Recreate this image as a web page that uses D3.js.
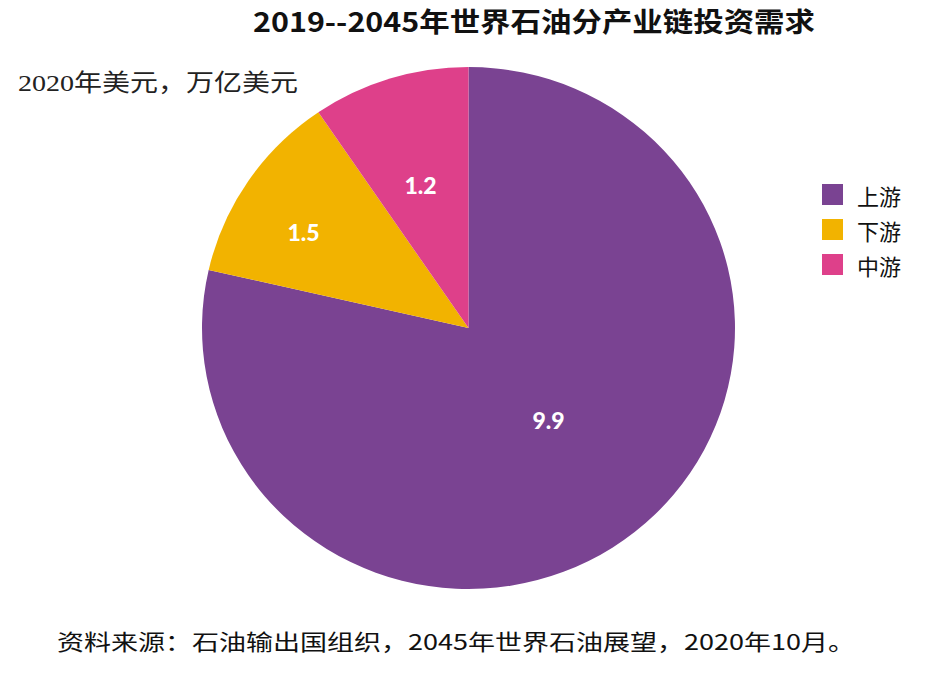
<!DOCTYPE html>
<html><head><meta charset="utf-8">
<script src="https://cdn.jsdelivr.net/npm/d3@7/dist/d3.min.js"></script>
<style>body{margin:0;background:#fff}svg{display:block}</style>
</head><body>
<svg id="c" width="946" height="674"></svg>
<script>
const categories = ["上游", "下游", "中游"];
const values = [9.9, 1.5, 1.2];
const labels = ["9.9", "1.5", "1.2"];
const colors = ["#7a4392", "#f2b300", "#de408a"];
const title = "2019--2045年世界石油分产业链投资需求";
const unit = "2020年美元，万亿美元";
const source = "资料来源：石油输出国组织，2045年世界石油展望，2020年10月。";

const svg = d3.select("#c");
const cx = 468.5, cy = 328, rx = 266.5, ry = 261;

const pie = d3.pie().sort(null).value(d => d)(values);
const arc = d3.arc().innerRadius(0).outerRadius(ry);

const g = svg.append("g").attr("transform", `translate(${cx},${cy})`);
g.append("g").attr("transform", `scale(${rx/ry},1)`)
  .selectAll("path").data(pie).join("path")
  .attr("d", arc).attr("fill", (d,i) => colors[i]);

const labelPos = [[80, 92], [-165, -96], [-48, -143]];
g.selectAll("text.v").data(pie).join("text")
  .attr("class","v")
  .attr("x", (d,i) => labelPos[i][0]).attr("y", (d,i) => labelPos[i][1])
  .attr("text-anchor","middle").attr("dominant-baseline","central")
  .attr("fill","#fff").attr("font-family","Lato, 'Open Sans', sans-serif")
  .attr("font-weight","900").attr("font-size", 23)
  .text((d,i) => labels[i]);

svg.append("text").attr("x", 534).attr("y", 32).attr("text-anchor","middle")
  .attr("font-family","'Noto Sans CJK SC', sans-serif").attr("font-weight","bold")
  .attr("font-size", 27).attr("textLength", 562).attr("lengthAdjust","spacingAndGlyphs")
  .attr("fill","#111").text(title);

svg.append("text").attr("x", 18).attr("y", 91)
  .attr("font-family","'Liberation Serif', 'Noto Sans CJK SC', serif")
  .attr("font-size", 24).attr("textLength", 280).attr("lengthAdjust","spacingAndGlyphs")
  .attr("fill","#222").text(unit);

const lg = svg.append("g");
categories.forEach((c,i) => {
  const y = 184 + i*35;
  lg.append("rect").attr("x", 822).attr("y", y).attr("width", 21).attr("height", 21).attr("fill", colors[i]);
  lg.append("text").attr("x", 857).attr("y", y + 10.5).attr("dominant-baseline","central")
    .attr("font-family","'Noto Sans CJK SC', sans-serif").attr("font-size", 22)
    .attr("fill","#111").text(c);
});

svg.append("text").attr("x", 57).attr("y", 650)
  .attr("font-family","'Liberation Sans Narrow', 'Noto Sans CJK SC', sans-serif")
  .attr("font-size", 22).attr("textLength", 798).attr("lengthAdjust","spacingAndGlyphs")
  .attr("fill","#111").text(source);
</script>
</body></html>
